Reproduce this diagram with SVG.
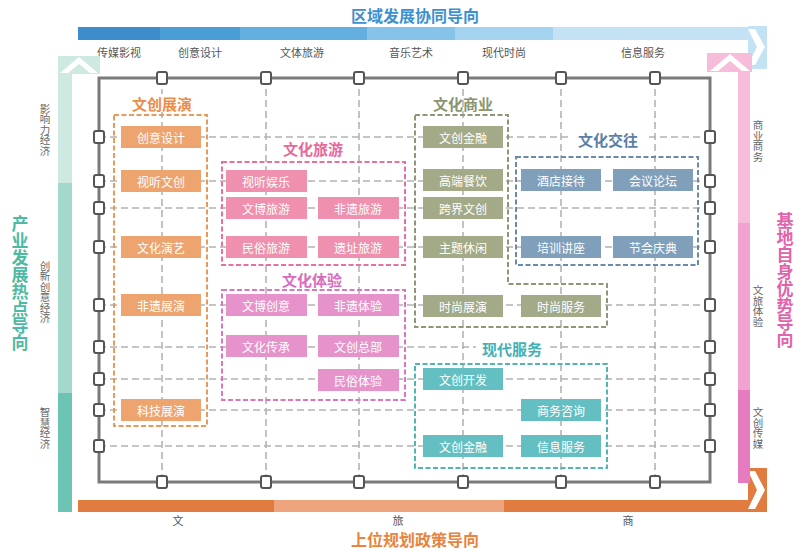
<svg xmlns="http://www.w3.org/2000/svg" width="806" height="551" viewBox="0 0 806 551">
<defs>
<style>
text{font-family:"Noto Sans CJK SC","Liberation Sans",sans-serif;}
.grid{stroke:#b3b3b3;stroke-width:1.6;stroke-dasharray:7 4;fill:none;}
.frame{fill:none;stroke:#7a7a7a;stroke-width:3;}
.sq{fill:#fff;stroke:#555;stroke-width:2;}
.bt{font-size:12px;fill:#fff;text-anchor:middle;dominant-baseline:central;}
.gt{font-size:15px;font-weight:bold;text-anchor:middle;dominant-baseline:central;}
.grp{fill:none;stroke-width:2;stroke-dasharray:5 2.5;}
.axl{font-size:11px;fill:#555;text-anchor:middle;dominant-baseline:central;}
.vl{font-size:10.5px;fill:#666;text-anchor:middle;writing-mode:vertical-rl;}
.vt{font-size:17px;font-weight:bold;text-anchor:middle;writing-mode:vertical-rl;}
.ht{font-size:16px;font-weight:bold;text-anchor:middle;dominant-baseline:central;}
.o{fill:#eda46e}.p{fill:#ee90ae}.m{fill:#e793cb}.g{fill:#a3aa88}.b{fill:#7f9fbb}.t{fill:#64bfc2}
</style>
</defs>
<rect width="806" height="551" fill="#fff"/>

<g id="top-axis">
<rect x="78" y="27" width="82" height="13" fill="#3d8ccc"/>
<rect x="160" y="27" width="80" height="13" fill="#4b9dd6"/>
<rect x="240" y="27" width="127" height="13" fill="#62afe0"/>
<rect x="367" y="27" width="88" height="13" fill="#86c3e8"/>
<rect x="455" y="27" width="98" height="13" fill="#a4d3ef"/>
<rect x="553" y="27" width="195" height="13" fill="#c3e2f4"/>
<rect x="748" y="26" width="19" height="43" fill="#c3e2f4"/>
<polygon points="748,29 755,29 765,47 755,65 748,65 757,47" fill="#fff"/>
<text class="ht" x="415" y="15" fill="#3c90d0">区域发展协同导向</text>
<text class="axl" x="119" y="52">传媒影视</text>
<text class="axl" x="200" y="52">创意设计</text>
<text class="axl" x="302" y="52">文体旅游</text>
<text class="axl" x="411" y="52">音乐艺术</text>
<text class="axl" x="504" y="52">现代时尚</text>
<text class="axl" x="643" y="52">信息服务</text>
</g>

<g id="bottom-axis">
<rect x="78" y="500" width="196" height="12" fill="#e27b3f"/>
<rect x="274" y="500" width="230" height="12" fill="#eea47c"/>
<rect x="504" y="500" width="244" height="12" fill="#e27b3f"/>
<rect x="748" y="468" width="19" height="44" fill="#e27b3f"/>
<polygon points="748,471 755,471 765,490 755,509 748,509 757,490" fill="#fff"/>
<text class="axl" x="178" y="520">文</text>
<text class="axl" x="398" y="520">旅</text>
<text class="axl" x="628" y="520">商</text>
<text class="ht" x="415" y="539" fill="#e8843e">上位规划政策导向</text>
</g>

<g id="left-axis">
<rect x="58" y="74" width="14" height="109" fill="#cde9e2"/>
<rect x="58" y="183" width="14" height="210" fill="#a2d9cb"/>
<rect x="58" y="393" width="14" height="119" fill="#6cc5b2"/>
<rect x="58" y="56" width="42" height="18" fill="#cde9e2"/>
<polygon points="79,57 98,73 90,73 79,64 68,73 60,73" fill="#fff"/>
<text class="vl" x="45" y="130">影响力经济</text>
<text class="vl" x="45" y="292">创新创意经济</text>
<text class="vl" x="45" y="428">智慧经济</text>
<text class="vt" x="20" y="283" fill="#4dbaa3">产业发展热点导向</text>
</g>

<g id="right-axis">
<rect x="738" y="72" width="12" height="151" fill="#f7bcd9"/>
<rect x="738" y="223" width="12" height="167" fill="#f1a2cf"/>
<rect x="738" y="390" width="12" height="93" fill="#e77bc0"/>
<rect x="707" y="53" width="45" height="19" fill="#f7bcd9"/>
<polygon points="730,54 750,71 742,71 730,61 718,71 710,71" fill="#fff"/>
<text class="vl" x="758" y="141">商业商务</text>
<text class="vl" x="758" y="306">文旅体验</text>
<text class="vl" x="758" y="428">文创传媒</text>
<text class="vt" x="785" y="280" fill="#e263ab">基地自身优势导向</text>
</g>

<g id="connectors">
<line class="grid" x1="162" y1="78" x2="162" y2="482"/>
<line class="grid" x1="266" y1="78" x2="266" y2="482"/>
<line class="grid" x1="359" y1="78" x2="359" y2="482"/>
<line class="grid" x1="463" y1="78" x2="463" y2="482"/>
<line class="grid" x1="561" y1="78" x2="561" y2="482"/>
<line class="grid" x1="655" y1="78" x2="655" y2="482"/>
<line class="grid" x1="99" y1="137" x2="710" y2="137"/>
<line class="grid" x1="99" y1="181" x2="710" y2="181"/>
<line class="grid" x1="99" y1="208" x2="710" y2="208"/>
<line class="grid" x1="99" y1="247" x2="710" y2="247"/>
<line class="grid" x1="99" y1="305" x2="710" y2="305"/>
<line class="grid" x1="99" y1="347" x2="710" y2="347"/>
<line class="grid" x1="99" y1="379" x2="710" y2="379"/>
<line class="grid" x1="99" y1="410" x2="710" y2="410"/>
<line class="grid" x1="99" y1="446" x2="710" y2="446"/>
</g>

<g id="frame">
<rect class="frame" x="99" y="78" width="611" height="404"/>
<g id="squares" class="sq">
<rect x="157" y="72" width="10" height="12" rx="2"/><rect x="261" y="72" width="10" height="12" rx="2"/><rect x="354" y="72" width="10" height="12" rx="2"/><rect x="458" y="72" width="10" height="12" rx="2"/><rect x="556" y="72" width="10" height="12" rx="2"/><rect x="650" y="72" width="10" height="12" rx="2"/>
<rect x="157" y="476" width="10" height="12" rx="2"/><rect x="261" y="476" width="10" height="12" rx="2"/><rect x="354" y="476" width="10" height="12" rx="2"/><rect x="458" y="476" width="10" height="12" rx="2"/><rect x="556" y="476" width="10" height="12" rx="2"/><rect x="650" y="476" width="10" height="12" rx="2"/>
<rect x="94" y="131" width="10" height="12" rx="2"/><rect x="94" y="175" width="10" height="12" rx="2"/><rect x="94" y="202" width="10" height="12" rx="2"/><rect x="94" y="241" width="10" height="12" rx="2"/><rect x="94" y="299" width="10" height="12" rx="2"/><rect x="94" y="341" width="10" height="12" rx="2"/><rect x="94" y="373" width="10" height="12" rx="2"/><rect x="94" y="404" width="10" height="12" rx="2"/><rect x="94" y="440" width="10" height="12" rx="2"/>
<rect x="705" y="131" width="10" height="12" rx="2"/><rect x="705" y="175" width="10" height="12" rx="2"/><rect x="705" y="202" width="10" height="12" rx="2"/><rect x="705" y="241" width="10" height="12" rx="2"/><rect x="705" y="299" width="10" height="12" rx="2"/><rect x="705" y="341" width="10" height="12" rx="2"/><rect x="705" y="373" width="10" height="12" rx="2"/><rect x="705" y="404" width="10" height="12" rx="2"/><rect x="705" y="440" width="10" height="12" rx="2"/>
</g>
</g>

<g id="group-wenchuang-zhanyan">
<rect class="grp" x="114" y="115" width="93" height="311" stroke="#e89a5a"/>
<rect x="127" y="94" width="70" height="18" fill="#fff"/>
<text class="gt" x="162" y="103" fill="#ec8c4a">文创展演</text>
</g>
<g id="n-chuangyisheji"><rect class="o" x="121" y="126" width="80" height="22"/><text class="bt" x="161" y="137">创意设计</text></g>
<g id="n-shitingwenchuang"><rect class="o" x="121" y="170" width="80" height="22"/><text class="bt" x="161" y="181">视听文创</text></g>
<g id="n-wenhuayanyi"><rect class="o" x="121" y="236" width="80" height="22"/><text class="bt" x="161" y="247">文化演艺</text></g>
<g id="n-feiyizhanyan"><rect class="o" x="121" y="294" width="80" height="22"/><text class="bt" x="161" y="305">非遗展演</text></g>
<g id="n-kejizhanyan"><rect class="o" x="121" y="399" width="80" height="22"/><text class="bt" x="161" y="410">科技展演</text></g>

<g id="group-wenhua-lvyou">
<rect class="grp" x="222" y="162" width="183" height="103" stroke="#e8709e"/>
<text class="gt" x="313" y="148" fill="#e8689a">文化旅游</text>
</g>
<g id="n-shitingyule"><rect class="p" x="226" y="170" width="81" height="22"/><text class="bt" x="266" y="181">视听娱乐</text></g>
<g id="n-wenbolvyou"><rect class="p" x="226" y="197" width="81" height="22"/><text class="bt" x="266" y="208">文博旅游</text></g>
<g id="n-feiyilvyou"><rect class="p" x="318" y="197" width="81" height="22"/><text class="bt" x="358" y="208">非遗旅游</text></g>
<g id="n-minsulvyou"><rect class="p" x="226" y="236" width="81" height="22"/><text class="bt" x="266" y="247">民俗旅游</text></g>
<g id="n-yizhilvyou"><rect class="p" x="318" y="236" width="81" height="22"/><text class="bt" x="358" y="247">遗址旅游</text></g>

<g id="group-wenhua-tiyan">
<rect class="grp" x="222" y="290" width="183" height="110" stroke="#d877c0"/>
<text class="gt" x="312" y="279" fill="#d96bc0">文化体验</text>
</g>
<g id="n-wenbochuangyi"><rect class="m" x="226" y="294" width="81" height="22"/><text class="bt" x="266" y="305">文博创意</text></g>
<g id="n-feiyitiyan"><rect class="m" x="318" y="294" width="81" height="22"/><text class="bt" x="358" y="305">非遗体验</text></g>
<g id="n-wenhuachuancheng"><rect class="m" x="226" y="335" width="81" height="22"/><text class="bt" x="266" y="346">文化传承</text></g>
<g id="n-wenchuangzongbu"><rect class="m" x="318" y="335" width="81" height="22"/><text class="bt" x="358" y="346">文创总部</text></g>
<g id="n-minsutiyan"><rect class="m" x="318" y="369" width="81" height="22"/><text class="bt" x="358" y="380">民俗体验</text></g>

<g id="group-wenhua-shangye">
<path class="grp" d="M415,115 H508 V284 H607 V327 H415 Z" stroke="#8e9877"/>
<text class="gt" x="463" y="103" fill="#8b956e">文化商业</text>
</g>
<g id="n-wenchuangjinrong-1"><rect class="g" x="423" y="126" width="80" height="22"/><text class="bt" x="463" y="137">文创金融</text></g>
<g id="n-gaoduancanyin"><rect class="g" x="423" y="169" width="80" height="22"/><text class="bt" x="463" y="180">高端餐饮</text></g>
<g id="n-kuajiewenchuang"><rect class="g" x="423" y="197" width="80" height="22"/><text class="bt" x="463" y="208">跨界文创</text></g>
<g id="n-zhutixiuxian"><rect class="g" x="423" y="236" width="80" height="22"/><text class="bt" x="463" y="247">主题休闲</text></g>
<g id="n-shishangzhanyan"><rect class="g" x="423" y="295" width="80" height="22"/><text class="bt" x="463" y="306">时尚展演</text></g>
<g id="n-shishangfuwu"><rect class="g" x="521" y="295" width="80" height="22"/><text class="bt" x="561" y="306">时尚服务</text></g>

<g id="group-wenhua-jiaowang">
<rect class="grp" x="516" y="157" width="182" height="108" stroke="#6a8bab"/>
<rect x="571" y="130" width="74" height="18" fill="#fff"/>
<text class="gt" x="608" y="139" fill="#5b7fa6">文化交往</text>
</g>
<g id="n-jiudianjiedai"><rect class="b" x="521" y="169" width="80" height="22"/><text class="bt" x="561" y="180">酒店接待</text></g>
<g id="n-huiyiluntan"><rect class="b" x="613" y="169" width="80" height="22"/><text class="bt" x="653" y="180">会议论坛</text></g>
<g id="n-peixunjiangzuo"><rect class="b" x="521" y="236" width="80" height="22"/><text class="bt" x="561" y="247">培训讲座</text></g>
<g id="n-jiehuiqingdian"><rect class="b" x="613" y="236" width="80" height="22"/><text class="bt" x="653" y="247">节会庆典</text></g>

<g id="group-xiandai-fuwu">
<rect class="grp" x="415" y="364" width="192" height="104" stroke="#4fb5b5"/>
<rect x="476" y="339" width="72" height="18" fill="#fff"/>
<text class="gt" x="512" y="348" fill="#41b1b5">现代服务</text>
</g>
<g id="n-wenchuangkaifa"><rect class="t" x="423" y="368" width="80" height="22"/><text class="bt" x="463" y="379">文创开发</text></g>
<g id="n-shangwuzixun"><rect class="t" x="521" y="399" width="80" height="22"/><text class="bt" x="561" y="410">商务咨询</text></g>
<g id="n-wenchuangjinrong-2"><rect class="t" x="423" y="435" width="80" height="22"/><text class="bt" x="463" y="446">文创金融</text></g>
<g id="n-xinxifuwu"><rect class="t" x="521" y="435" width="80" height="22"/><text class="bt" x="561" y="446">信息服务</text></g>
</svg>
